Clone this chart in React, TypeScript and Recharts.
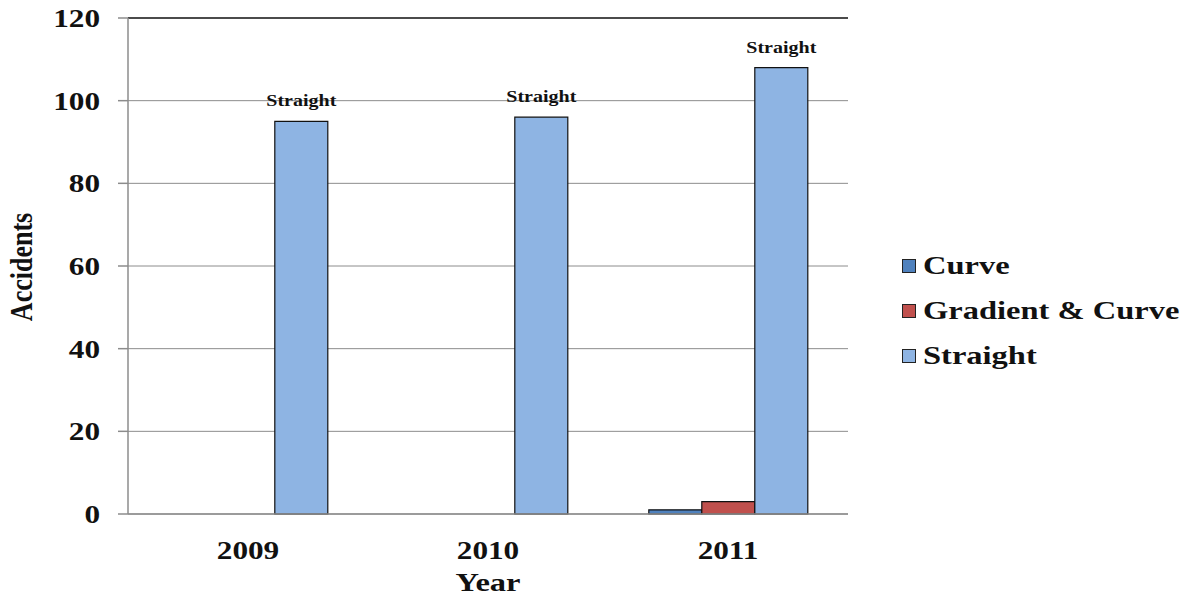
import { BarChart, Bar, XAxis, YAxis, CartesianGrid, ReferenceLine, LabelList } from 'recharts'

// Accident counts by road geometry, per year
const years = ['2009', '2010', '2011']
const curve = [0, 0, 1]
const gradientCurve = [0, 0, 3]
const straight = [95, 96, 108]
const yTicks = [0, 20, 40, 60, 80, 100, 120]

const SERIES = [
  { key: 'curve', label: 'Curve', color: '#4F81BD' },
  { key: 'gradientCurve', label: 'Gradient & Curve', color: '#C0504D' },
  { key: 'straight', label: 'Straight', color: '#8EB4E3' },
]

const data = years.map((year, i) => ({
  year,
  curve: curve[i],
  gradientCurve: gradientCurve[i],
  straight: straight[i],
}))

const FONT = '"Liberation Serif", "Times New Roman", serif'
const STRETCH = 1.25
const GRID = '#8c8c8c'

// bold serif text, widened horizontally
function WideText({ x, y, children, size, anchor = 'middle' }: any) {
  return (
    <text
      transform={`translate(${x} ${y}) scale(${STRETCH} 1)`}
      textAnchor={anchor}
      fontFamily={FONT}
      fontWeight="bold"
      fontSize={size}
      fill="#111"
    >
      {children}
    </text>
  )
}

function YTick({ x, y, payload }: any) {
  return (
    <WideText x={x} y={y + 9} size={25} anchor="end">
      {payload.value}
    </WideText>
  )
}

function XTick({ x, y, payload }: any) {
  return (
    <WideText x={x} y={y + 43} size={25}>
      {payload.value}
    </WideText>
  )
}

function StraightLabel({ x, y, width, value }: any) {
  if (!value) return null
  return (
    <WideText x={x + width / 2} y={y - 15} size={16}>
      Straight
    </WideText>
  )
}

export default function App() {
  return (
    <div style={{ position: 'absolute', left: 0, top: 0, width: 1189, height: 597, background: '#fff' }}>
      <BarChart
        width={1189}
        height={597}
        data={data}
        margin={{ top: 18, right: 341, bottom: 0, left: 0 }}
        barCategoryGap="17%"
        barGap={0}
      >
        <CartesianGrid vertical={false} stroke={GRID} strokeWidth={1} yAxisId="left" />
        <XAxis
          dataKey="year"
          height={83}
          tickLine={false}
          tickSize={0}
          tick={<XTick />}
          stroke={GRID}
          strokeWidth={1.5}
          label={({ viewBox }: any) => (
            <WideText x={viewBox.x + viewBox.width / 2} y={viewBox.y + 77} size={26}>
              Year
            </WideText>
          )}
        />
        <YAxis
          yAxisId="left"
          width={128}
          domain={[0, 120]}
          ticks={yTicks}
          interval={0}
          tickSize={10}
          tickMargin={18}
          stroke={GRID}
          strokeWidth={1.5}
          tick={<YTick />}
          label={() => (
            <text
              transform="translate(32 267) rotate(-90) scale(1 1.25)"
              textAnchor="middle"
              fontFamily={FONT}
              fontWeight="bold"
              fontSize={26}
              fill="#111"
            >
              Accidents
            </text>
          )}
        />
        <YAxis
          yAxisId="right"
          orientation="right"
          width={0}
          domain={[0, 120]}
          tick={false}
          tickLine={false}
          stroke="#222"
          strokeWidth={1.5}
        />
        <ReferenceLine yAxisId="left" y={120} stroke="#222" strokeWidth={1.5} />
        {SERIES.map((s) => (
          <Bar
            key={s.key}
            yAxisId="left"
            dataKey={s.key}
            name={s.label}
            fill={s.color}
            stroke="#111"
            strokeWidth={1.2}
            isAnimationActive={false}
          >
            {s.key === 'straight' && <LabelList dataKey="straight" content={<StraightLabel />} />}
          </Bar>
        ))}
      </BarChart>
      <div style={{ position: 'absolute', left: 902, top: 243 }}>
        {SERIES.map((s) => (
          <div key={s.key} style={{ display: 'flex', alignItems: 'center', height: 45 }}>
            <span
              style={{
                width: 14,
                height: 14,
                background: s.color,
                border: '1.5px solid #222',
                boxSizing: 'border-box',
                marginRight: 7,
              }}
            />
            <span
              style={{
                display: 'inline-block',
                fontFamily: FONT,
                fontWeight: 'bold',
                fontSize: 25,
                color: '#111',
                transform: 'scaleX(1.3)',
                transformOrigin: 'left center',
                whiteSpace: 'nowrap',
              }}
            >
              {s.label}
            </span>
          </div>
        ))}
      </div>
    </div>
  )
}
